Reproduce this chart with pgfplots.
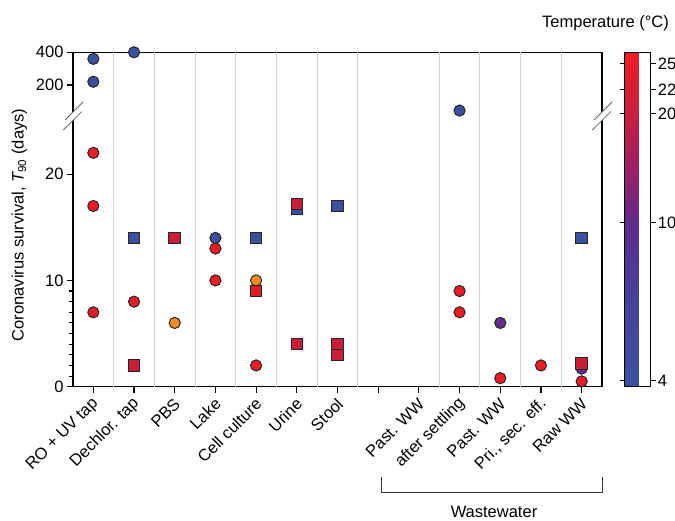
\documentclass[border=0pt]{standalone}
\usepackage{pgfplots}
\pgfplotsset{compat=1.18}
\usepackage{fontspec}
\setmainfont{Liberation Sans}
\definecolor{cblue}{RGB}{60,80,160}
\definecolor{cpurple}{RGB}{98,45,140}
\definecolor{cred}{RGB}{237,28,36}
\definecolor{cdred}{RGB}{222,30,38}
\definecolor{ccrim}{RGB}{200,30,58}
\definecolor{corange}{RGB}{245,140,35}
\definecolor{cgrid}{RGB}{212,212,212}
\newcommand{\fs}{\fontsize{16.5}{19}\selectfont}
\begin{document}
\begin{tikzpicture}[font=\fs]
\useasboundingbox (0,0) rectangle (675pt,520pt);
\begin{axis}[
  at={(73pt,133.3pt)}, anchor=south west,
  scale only axis, width=529pt, height=334.4pt,
  xmin=-0.5, xmax=12.5, ymin=0, ymax=400,
  y coord trafo/.code={\pgfmathparse{(#1<30) ? (#1) : (28.38+(#1-200)*0.0154)}},
  clip=false,
  axis line style={line width=1.2pt},
  tick style={black, line width=1.1pt},
  tick align=outside,
  major tick length=6pt,
  minor tick length=4pt,
  xtick pos=bottom, ytick pos=left,
  xtick={0,1,2,3,4,5,6,7,8,9,10,11,12},
  xticklabels={RO + UV tap, Dechlor. tap, PBS, Lake, Cell culture, Urine, Stool, {}, Past. WW, after settling, Past. WW, {Pri., sec. eff.}, Raw WW},
  xticklabel style={shift={(4pt,-7pt)}, rotate=45, anchor=east, font=\fs, inner sep=2pt},
  ytick={0,10,20,200,400},
  yticklabels={0,10,20,200,400},
  minor ytick={1,2,3,4,5,6,7,8,9},
  yticklabel style={font=\fs},
  extra x ticks={0.5,1.5,2.5,3.5,4.5,5.5,6.5,8.5,9.5,10.5,11.5},
  extra x tick labels={},
  extra x tick style={grid=major, major tick length=0pt, major grid style={cgrid, line width=1pt}},
  point meta min=0, point meta max=1,
  colormap={temp}{rgb255(0pt)=(58,82,162); rgb255(30pt)=(72,62,152); rgb255(49pt)=(96,42,140); rgb255(66pt)=(160,30,100); rgb255(82pt)=(200,32,62); rgb255(100pt)=(238,28,36)},
  colorbar,
  colorbar style={
    at={(parent axis.north east)}, anchor=north west, xshift=14pt,
    scale only axis, width=26pt, height=334.4pt,
    ytick={0.018,0.49,0.816,0.888,0.966},
    yticklabels={4,10,20,22,25},
    yticklabel style={font=\fs, inner sep=2.2pt},
    tick align=outside, major tick length=5pt,
    tick style={black, line width=1.1pt},
    axis line style={line width=1.2pt},
  },
  circ/.style={only marks, mark=*, mark size=5.6pt, mark options={fill=#1, draw=black!85, line width=1pt}},
  sq/.style={only marks, mark=square*, mark size=5.8pt, mark options={fill=#1, draw=black!85, line width=1pt}},
]
% bright red circles (25 C)
\addplot[circ=cred] coordinates {(0,22) (0,17) (3,13) (3,10) (4,2) (9,9) (9,7) (10,0.8) (11,2)};
% dark red circles
\addplot[circ=cdred] coordinates {(0,7) (1,8)};
% blue circles (4 C)
\addplot[circ=cblue] coordinates {(0,360) (0,220) (1,400) (3,14) (9,44)};
% blue squares
\addplot[sq=cblue] coordinates {(1,14) (4,14) (5,16.7) (6,17) (12,14)};
% purple circles
\addplot[circ=cpurple] coordinates {(10,6) (12,1.7)};
% orange circles
\addplot[circ=corange] coordinates {(2,6) (4,10)};
% crimson squares
\addplot[sq=ccrim] coordinates {(1,2) (2,14) (5,17.2) (5,4) (6,4) (6,3) (12,2.2)};
\addplot[sq=cdred] coordinates {(4,9)};
% red circle in front at Raw WW
\addplot[circ=cred] coordinates {(12,0.5)};
\end{axis}
% axis breaks
\foreach \cx in {73,602}{
  \fill[white] (\cx pt-9.7pt,390pt) -- (\cx pt+8.7pt,408.3pt) -- (\cx pt+10.3pt,418.3pt) -- (\cx pt-8pt,400pt) -- cycle;
  \draw[black!60, line width=0.8pt] (\cx pt-9.7pt,390pt) -- (\cx pt+8.7pt,408.3pt);
  \draw[black!60, line width=0.8pt] (\cx pt-8pt,400pt) -- (\cx pt+10.3pt,418.3pt);
}
% labels
\node[rotate=90] at (19.3pt,295pt) {Coronavirus survival, {\itshape T}\textsubscript{90} (days)};
\node at (605.5pt,497pt) {Temperature (°C)};
\draw[black!80, line width=0.9pt] (381.7pt,43pt) -- (381.7pt,27.3pt) -- (602.7pt,27.3pt) -- (602.7pt,43pt);
\node[anchor=base] at (494pt,2.5pt) {Wastewater};
\end{tikzpicture}
\end{document}
